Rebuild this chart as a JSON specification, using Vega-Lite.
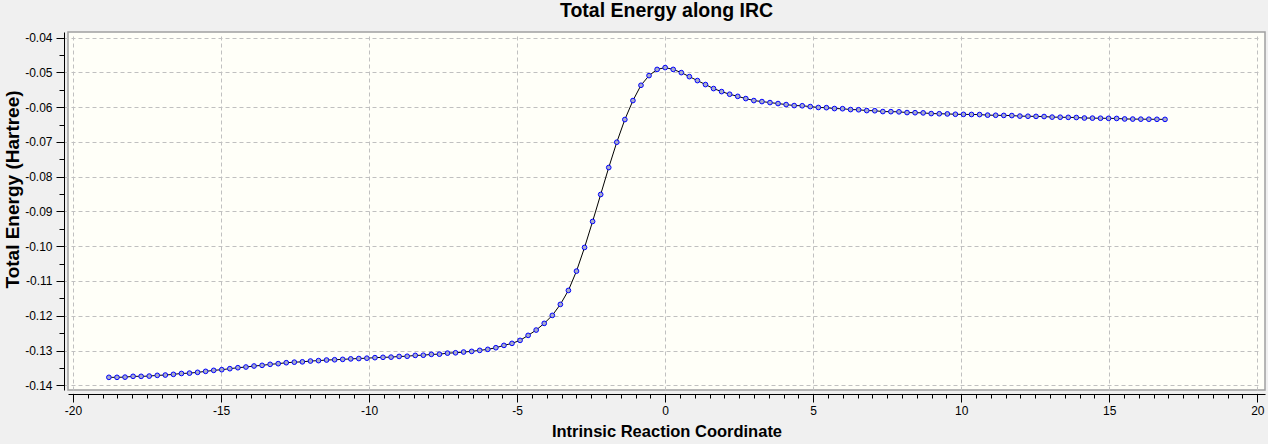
{
  "$schema": "https://vega.github.io/schema/vega-lite/v6.json",
  "width": 1197,
  "height": 358,
  "autosize": {"type": "none"},
  "padding": {"left": 68, "top": 32, "right": 3, "bottom": 54},
  "background": "#f0f0f0",
  "title": {"text": "Total Energy along IRC", "font": "Liberation Sans", "fontSize": 19.5, "fontWeight": "bold", "color": "#000000", "anchor": "middle", "offset": 10},
  "config": {
    "view": {"fill": "#fffff8", "stroke": "#a0a0a0", "strokeWidth": 1.5},
    "axis": {
      "domainColor": "#000000",
      "domainWidth": 1,
      "tickColor": "#000000",
      "tickWidth": 1,
      "offset": 4,
      "gridColor": "#c0c0c0",
      "gridDash": [4, 3],
      "gridWidth": 1,
      "labelFont": "Liberation Sans",
      "labelFontSize": 12,
      "labelColor": "#000000",
      "titleFont": "Liberation Sans",
      "titleFontWeight": "bold",
      "titleColor": "#000000"
    }
  },
  "data": {"values": [
    {"irc": -18.789, "energy": -0.13771},
    {"irc": -18.516, "energy": -0.13771},
    {"irc": -18.244, "energy": -0.13765},
    {"irc": -17.972, "energy": -0.13742},
    {"irc": -17.700, "energy": -0.13742},
    {"irc": -17.427, "energy": -0.13735},
    {"irc": -17.155, "energy": -0.13714},
    {"irc": -16.883, "energy": -0.13705},
    {"irc": -16.610, "energy": -0.13685},
    {"irc": -16.338, "energy": -0.13660},
    {"irc": -16.066, "energy": -0.13650},
    {"irc": -15.793, "energy": -0.13627},
    {"irc": -15.521, "energy": -0.13599},
    {"irc": -15.249, "energy": -0.13570},
    {"irc": -14.977, "energy": -0.13551},
    {"irc": -14.704, "energy": -0.13522},
    {"irc": -14.432, "energy": -0.13494},
    {"irc": -14.160, "energy": -0.13474},
    {"irc": -13.887, "energy": -0.13445},
    {"irc": -13.615, "energy": -0.13426},
    {"irc": -13.343, "energy": -0.13397},
    {"irc": -13.070, "energy": -0.13378},
    {"irc": -12.798, "energy": -0.13350},
    {"irc": -12.526, "energy": -0.13335},
    {"irc": -12.254, "energy": -0.13325},
    {"irc": -11.981, "energy": -0.13302},
    {"irc": -11.709, "energy": -0.13290},
    {"irc": -11.437, "energy": -0.13273},
    {"irc": -11.164, "energy": -0.13265},
    {"irc": -10.892, "energy": -0.13254},
    {"irc": -10.620, "energy": -0.13240},
    {"irc": -10.347, "energy": -0.13230},
    {"irc": -10.075, "energy": -0.13220},
    {"irc": -9.803, "energy": -0.13205},
    {"irc": -9.531, "energy": -0.13195},
    {"irc": -9.258, "energy": -0.13190},
    {"irc": -8.986, "energy": -0.13170},
    {"irc": -8.714, "energy": -0.13165},
    {"irc": -8.441, "energy": -0.13140},
    {"irc": -8.169, "energy": -0.13135},
    {"irc": -7.897, "energy": -0.13110},
    {"irc": -7.624, "energy": -0.13105},
    {"irc": -7.352, "energy": -0.13075},
    {"irc": -7.080, "energy": -0.13065},
    {"irc": -6.808, "energy": -0.13043},
    {"irc": -6.535, "energy": -0.13024},
    {"irc": -6.263, "energy": -0.12995},
    {"irc": -5.991, "energy": -0.12966},
    {"irc": -5.718, "energy": -0.12919},
    {"irc": -5.446, "energy": -0.12852},
    {"irc": -5.174, "energy": -0.12794},
    {"irc": -4.901, "energy": -0.12708},
    {"irc": -4.629, "energy": -0.12564},
    {"irc": -4.357, "energy": -0.12411},
    {"irc": -4.085, "energy": -0.12219},
    {"irc": -3.812, "energy": -0.11989},
    {"irc": -3.540, "energy": -0.11673},
    {"irc": -3.268, "energy": -0.11271},
    {"irc": -2.995, "energy": -0.10716},
    {"irc": -2.723, "energy": -0.10035},
    {"irc": -2.451, "energy": -0.09288},
    {"irc": -2.178, "energy": -0.08512},
    {"irc": -1.906, "energy": -0.07737},
    {"irc": -1.634, "energy": -0.07009},
    {"irc": -1.362, "energy": -0.06357},
    {"irc": -1.089, "energy": -0.05811},
    {"irc": -0.817, "energy": -0.05371},
    {"irc": -0.545, "energy": -0.05093},
    {"irc": -0.272, "energy": -0.04915},
    {"irc": 0.000, "energy": -0.04863},
    {"irc": 0.272, "energy": -0.04915},
    {"irc": 0.545, "energy": -0.05007},
    {"irc": 0.817, "energy": -0.05122},
    {"irc": 1.089, "energy": -0.05236},
    {"irc": 1.362, "energy": -0.05351},
    {"irc": 1.634, "energy": -0.05466},
    {"irc": 1.906, "energy": -0.05553},
    {"irc": 2.178, "energy": -0.05629},
    {"irc": 2.451, "energy": -0.05690},
    {"irc": 2.723, "energy": -0.05754},
    {"irc": 2.995, "energy": -0.05811},
    {"irc": 3.268, "energy": -0.05840},
    {"irc": 3.540, "energy": -0.05869},
    {"irc": 3.812, "energy": -0.05897},
    {"irc": 4.085, "energy": -0.05926},
    {"irc": 4.357, "energy": -0.05955},
    {"irc": 4.629, "energy": -0.05960},
    {"irc": 4.901, "energy": -0.05984},
    {"irc": 5.174, "energy": -0.06010},
    {"irc": 5.446, "energy": -0.06015},
    {"irc": 5.718, "energy": -0.06041},
    {"irc": 5.991, "energy": -0.06045},
    {"irc": 6.263, "energy": -0.06070},
    {"irc": 6.535, "energy": -0.06075},
    {"irc": 6.808, "energy": -0.06099},
    {"irc": 7.080, "energy": -0.06103},
    {"irc": 7.352, "energy": -0.06127},
    {"irc": 7.624, "energy": -0.06130},
    {"irc": 7.897, "energy": -0.06135},
    {"irc": 8.169, "energy": -0.06156},
    {"irc": 8.441, "energy": -0.06160},
    {"irc": 8.714, "energy": -0.06165},
    {"irc": 8.986, "energy": -0.06185},
    {"irc": 9.258, "energy": -0.06190},
    {"irc": 9.531, "energy": -0.06195},
    {"irc": 9.803, "energy": -0.06205},
    {"irc": 10.075, "energy": -0.06208},
    {"irc": 10.347, "energy": -0.06211},
    {"irc": 10.620, "energy": -0.06214},
    {"irc": 10.892, "energy": -0.06230},
    {"irc": 11.164, "energy": -0.06234},
    {"irc": 11.437, "energy": -0.06238},
    {"irc": 11.709, "energy": -0.06242},
    {"irc": 11.981, "energy": -0.06258},
    {"irc": 12.254, "energy": -0.06262},
    {"irc": 12.526, "energy": -0.06266},
    {"irc": 12.798, "energy": -0.06270},
    {"irc": 13.070, "energy": -0.06287},
    {"irc": 13.343, "energy": -0.06290},
    {"irc": 13.615, "energy": -0.06294},
    {"irc": 13.887, "energy": -0.06298},
    {"irc": 14.160, "energy": -0.06313},
    {"irc": 14.432, "energy": -0.06316},
    {"irc": 14.704, "energy": -0.06319},
    {"irc": 14.977, "energy": -0.06322},
    {"irc": 15.249, "energy": -0.06325},
    {"irc": 15.521, "energy": -0.06340},
    {"irc": 15.793, "energy": -0.06343},
    {"irc": 16.066, "energy": -0.06346},
    {"irc": 16.338, "energy": -0.06348},
    {"irc": 16.610, "energy": -0.06350},
    {"irc": 16.883, "energy": -0.06352}
  ]},
  "encoding": {
    "x": {
      "field": "irc",
      "type": "quantitative",
      "scale": {"domain": [-20.17, 20.26], "nice": false, "zero": false},
      "axis": {
        "title": "Intrinsic Reaction Coordinate",
        "titleFontSize": 16.5,
        "titlePadding": 7,
        "values": [-20, -19.5, -19, -18.5, -18, -17.5, -17, -16.5, -16, -15.5, -15, -14.5, -14, -13.5, -13, -12.5, -12, -11.5, -11, -10.5, -10, -9.5, -9, -8.5, -8, -7.5, -7, -6.5, -6, -5.5, -5, -4.5, -4, -3.5, -3, -2.5, -2, -1.5, -1, -0.5, 0, 0.5, 1, 1.5, 2, 2.5, 3, 3.5, 4, 4.5, 5, 5.5, 6, 6.5, 7, 7.5, 8, 8.5, 9, 9.5, 10, 10.5, 11, 11.5, 12, 12.5, 13, 13.5, 14, 14.5, 15, 15.5, 16, 16.5, 17, 17.5, 18, 18.5, 19, 19.5, 20],
        "labelExpr": "datum.value % 5 === 0 ? '' + datum.value : ''",
        "labelPadding": 3,
        "labelFlush": false,
        "labelOverlap": false,
        "tickSize": {"condition": {"test": "datum.value % 5 === 0", "value": 8}, "value": 4},
        "gridOpacity": {"condition": {"test": "datum.value % 5 === 0", "value": 1}, "value": 0}
      }
    },
    "y": {
      "field": "energy",
      "type": "quantitative",
      "scale": {"domain": [-0.14135, -0.03839], "nice": false, "zero": false},
      "axis": {
        "title": "Total Energy (Hartree)",
        "titleFontSize": 19,
        "titlePadding": 2,
        "titleY": 157,
        "values": [-0.14, -0.135, -0.13, -0.125, -0.12, -0.115, -0.11, -0.105, -0.1, -0.095, -0.09, -0.085, -0.08, -0.075, -0.07, -0.065, -0.06, -0.055, -0.05, -0.045, -0.04],
        "labelExpr": "abs(datum.value * 100 - round(datum.value * 100)) < 0.001 ? replace(format(datum.value, '.2f'), '\u2212', '-') : ''",
        "labelPadding": 4,
        "labelFlush": false,
        "labelOverlap": false,
        "tickSize": {"condition": {"test": "abs(datum.value * 100 - round(datum.value * 100)) < 0.001", "value": 8}, "value": 5},
        "gridOpacity": {"condition": {"test": "abs(datum.value * 100 - round(datum.value * 100)) < 0.001", "value": 1}, "value": 0}
      }
    }
  },
  "layer": [
    {"mark": {"type": "line", "color": "#000000", "strokeWidth": 1}},
    {"mark": {"type": "point", "shape": "circle", "size": 22, "filled": false, "fill": "#a8acc8", "fillOpacity": 1, "stroke": "#0000ff", "strokeWidth": 1, "opacity": 1}}
  ]
}
